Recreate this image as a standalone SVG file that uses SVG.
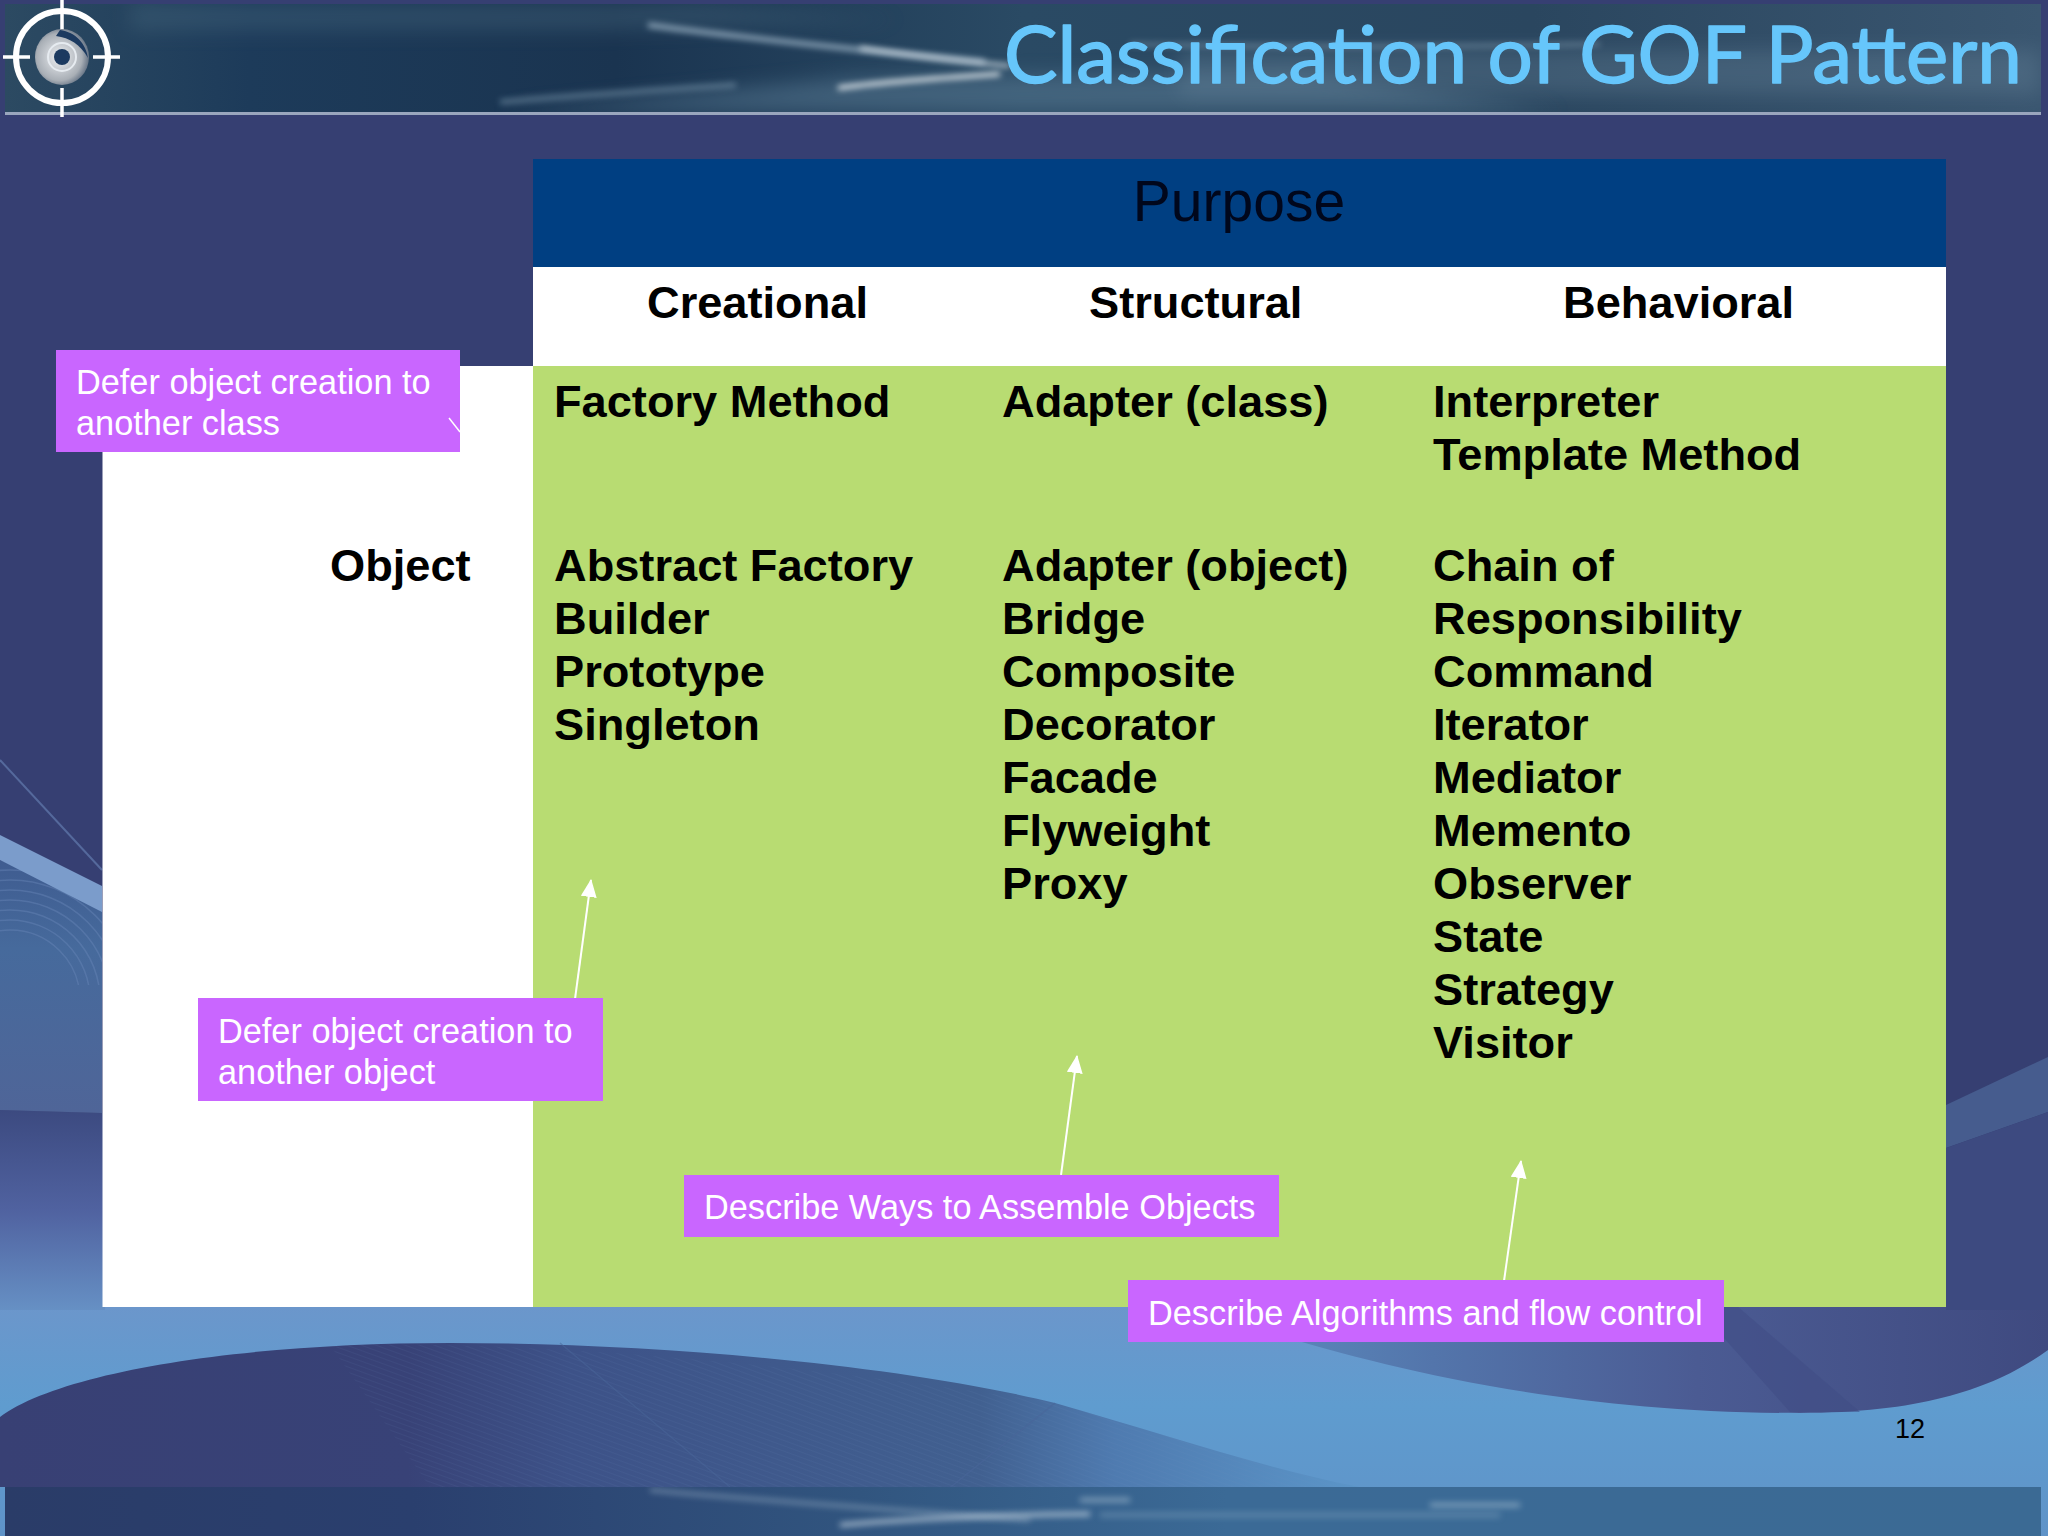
<svg xmlns="http://www.w3.org/2000/svg" width="2048" height="1536" viewBox="0 0 2048 1536">
<style>
.b{font-family:"Liberation Sans",Arial,sans-serif;font-weight:700;font-size:45.2px;fill:#000}
.l{font-family:"Liberation Sans",Arial,sans-serif;font-size:34.3px;fill:#fff}
.box{fill:#c966ff}
.arrow{stroke:#fff;stroke-width:2;fill:none;marker-end:url(#head)}
</style>
<defs>
<marker id="head" markerUnits="userSpaceOnUse" markerWidth="18" markerHeight="20" refX="17" refY="8" orient="auto"><path d="M0 0L18 8L0 16Z" fill="#fff"/></marker>
<linearGradient id="sky" x1="0" y1="0" x2="0" y2="1"><stop offset="0" stop-color="#6c96cb"/><stop offset=".45" stop-color="#5f9ccf"/><stop offset="1" stop-color="#5f93c8"/></linearGradient>
<linearGradient id="mound" x1="0" y1="0" x2="1" y2="0"><stop offset="0" stop-color="#384074"/><stop offset=".3" stop-color="#384277"/><stop offset=".42" stop-color="#3d5288"/><stop offset=".72" stop-color="#416090"/><stop offset=".82" stop-color="#4f7bb0"/><stop offset="1" stop-color="#5b95c8"/></linearGradient>
<linearGradient id="right" x1="0" y1="0" x2="1" y2="0"><stop offset="0" stop-color="#5f92c4"/><stop offset=".3" stop-color="#5375ab"/><stop offset=".6" stop-color="#4b5b93"/><stop offset="1" stop-color="#3f4a80"/></linearGradient>
<linearGradient id="left" x1="0" y1="0" x2="0" y2="1"><stop offset="0" stop-color="#3c4a80"/><stop offset=".5" stop-color="#5062a0"/><stop offset="1" stop-color="#6690c4"/></linearGradient>
<linearGradient id="leftup" x1="0" y1="0" x2="0" y2="1"><stop offset="0" stop-color="#3f5c90"/><stop offset=".35" stop-color="#466a9c"/><stop offset="1" stop-color="#4f6598"/></linearGradient>
<linearGradient id="head1" x1="0" y1="0" x2="1" y2="0"><stop offset="0" stop-color="#2c4a62"/><stop offset=".12" stop-color="#1d3b5a"/><stop offset=".3" stop-color="#1a3450"/><stop offset=".5" stop-color="#2a4a64"/><stop offset=".75" stop-color="#2a465f"/><stop offset="1" stop-color="#3a5670"/></linearGradient>
<linearGradient id="foot" x1="0" y1="0" x2="1" y2="0"><stop offset="0" stop-color="#2a3c68"/><stop offset=".2" stop-color="#2a3f6e"/><stop offset=".42" stop-color="#31557f"/><stop offset=".6" stop-color="#3b6a96"/><stop offset="1" stop-color="#3b6a94"/></linearGradient>
<radialGradient id="lens" cx=".45" cy=".5" r=".6"><stop offset="0" stop-color="#eef0f3"/><stop offset=".7" stop-color="#a9afb6"/><stop offset="1" stop-color="#4b5c72"/></radialGradient>
<pattern id="hatch" width="5" height="5" patternUnits="userSpaceOnUse" patternTransform="rotate(20)"><path d="M0 0H5" stroke="#6f8fc0" stroke-width="1"/></pattern>
<filter id="soft" filterUnits="userSpaceOnUse" x="0" y="-100" width="2048" height="1736"><feGaussianBlur stdDeviation="3"/></filter>
<filter id="softer" filterUnits="userSpaceOnUse" x="0" y="-100" width="2048" height="1736"><feGaussianBlur stdDeviation="10"/></filter>
<clipPath id="hc"><rect x="5" y="4" width="2036" height="108"/></clipPath>
<clipPath id="fc"><rect x="5" y="1487" width="2036" height="49"/></clipPath>
<clipPath id="lc"><path d="M0 860L102 905V985H0Z"/></clipPath>
</defs>

<g id="background">
<rect width="2048" height="1536" fill="#363f72"/>
<rect x="0" y="1300" width="2048" height="236" fill="url(#sky)"/>
<path d="M0 1110L105 1113V1310H0Z" fill="url(#left)"/>
<path d="M0 860L102 905V1113L0 1110Z" fill="url(#leftup)"/>
<g clip-path="url(#lc)" fill="none" stroke="#6d8abb" stroke-width="1.500" opacity=".4">
<circle cx="10" cy="1000" r="70"/><circle cx="10" cy="1000" r="80"/><circle cx="10" cy="1000" r="90"/><circle cx="10" cy="1000" r="100"/><circle cx="10" cy="1000" r="110"/><circle cx="10" cy="1000" r="120"/><circle cx="10" cy="1000" r="130"/>
</g>
<path d="M0 835L102 886V912L0 860Z" fill="#7b9ccb"/>
<path d="M0 760L102 870" stroke="#55699c" stroke-width="2" fill="none"/>
<path d="M0 1417C60 1372 240 1343 450 1343C660 1343 900 1365 1055 1403C1170 1436 1270 1470 1360 1487H0Z" fill="url(#mound)"/>
<path d="M330 1345C420 1343 660 1343 1055 1403C1170 1436 1270 1470 1360 1487H430Z" fill="url(#hatch)" opacity=".18"/>
<path d="M560 1343L730 1487M1055 1403L890 1536" stroke="#4a659a" stroke-width="1.500" opacity=".5" fill="none"/>
<path d="M1170 1300C1290 1340 1500 1413 1800 1413C1930 1413 2000 1385 2048 1350V1300Z" fill="url(#right)"/>
<path d="M1690 1300L1790 1412H1860L1730 1300Z" fill="#3f4d85" opacity=".55"/>
<path d="M1946 1105L2048 1057V1112L1946 1148Z" fill="#465c8e"/>
<path d="M1946 1148L2048 1112V1310H1946Z" fill="#3d4a80"/>
</g>

<g id="header">
<rect x="5" y="4" width="2036" height="108" fill="url(#head1)"/>
<g clip-path="url(#hc)">
<path d="M130 4H700L900 20L600 30H130Z" fill="#4a6a80" opacity=".4" filter="url(#softer)"/>
<path d="M500 112L850 78L1300 72L1560 112Z" fill="#5d7f98" opacity=".5" filter="url(#softer)"/>
<path d="M1180 50H2041V95H1180Z" fill="#6f8ca2" opacity=".3" filter="url(#softer)"/>
<path d="M648 25C760 40 880 52 985 62" stroke="#8ea6b9" stroke-width="5" fill="none" filter="url(#soft)"/>
<path d="M860 48C900 54 950 60 1010 66" stroke="#e6eef3" stroke-width="3" fill="none" filter="url(#soft)"/>
<path d="M838 88C880 82 940 78 1000 74" stroke="#f2f6f8" stroke-width="4" fill="none" filter="url(#soft)"/>
<path d="M500 102C580 95 660 90 736 85" stroke="#7d99ae" stroke-width="5" fill="none" filter="url(#soft)" opacity=".6"/>
<path d="M1130 44C1200 46 1400 48 1600 44" stroke="#90a8ba" stroke-width="4" fill="none" filter="url(#soft)" opacity=".5"/>
</g>
<rect x="5" y="112" width="2036" height="3" fill="#9aa6bd"/>
<text x="1004" y="83" font-family="Lato,'Liberation Sans',sans-serif" font-size="80" fill="#66c6fb" stroke="#66c6fb" stroke-width="1.500" stroke-linejoin="round" textLength="1018" lengthAdjust="spacingAndGlyphs">Classification of GOF Pattern</text>
</g>

<g id="logo">
<circle cx="62" cy="57" r="46" fill="none" stroke="#fff" stroke-width="6"/>
<path d="M62 0V30M62 88V117M3 57H30M93 57H120" stroke="#fff" stroke-width="3.500" fill="none"/>
<ellipse cx="62" cy="57" rx="27" ry="28" fill="url(#lens)"/>
<path d="M60 30C76 32 86 44 88 58C80 44 70 38 56 36Z" fill="#1c3a60"/>
<circle cx="62" cy="57" r="14" fill="none" stroke="#e6ebf0" stroke-width="2"/>
<circle cx="62" cy="57" r="8" fill="#1c3a60"/>
</g>

<g id="footer">
<rect x="5" y="1487" width="2036" height="49" fill="url(#foot)"/>
<g clip-path="url(#fc)">
<path d="M650 1490C750 1500 900 1510 1030 1520" stroke="#9fb4c8" stroke-width="3" fill="none" filter="url(#soft)" opacity=".7"/>
<path d="M840 1525C900 1520 980 1515 1090 1514" stroke="#cfdce6" stroke-width="4" fill="none" filter="url(#soft)" opacity=".8"/>
<path d="M1080 1500H1130M1430 1505H1520" stroke="#a8c0d2" stroke-width="4" fill="none" filter="url(#soft)" opacity=".7"/>
<path d="M1100 1515H1500" stroke="#7ea0bc" stroke-width="5" fill="none" filter="url(#soft)" opacity=".5"/>
</g>
</g>

<g id="table">
<rect x="533" y="159" width="1413" height="108" fill="#003f82"/>
<rect x="533" y="267" width="1413" height="99" fill="#fff"/>
<rect x="102.500" y="366" width="430.500" height="941" fill="#fff"/>
<rect x="533" y="366" width="1413" height="941" fill="#b8dc72"/>
<text x="1239" y="221" text-anchor="middle" font-family="'Liberation Sans',Arial,sans-serif" font-size="57" fill="#00071c">Purpose</text>
<text class="b" x="647" y="318">Creational</text>
<text class="b" x="1089" y="318">Structural</text>
<text class="b" x="1563" y="318">Behavioral</text>
<text class="b" x="330" y="581">Object</text>
<text class="b" x="554" y="417">Factory Method</text>
<text class="b" x="1002" y="417">Adapter (class)</text>
<text class="b" x="1433" y="417">Interpreter</text>
<text class="b" x="1433" y="470">Template Method</text>
<text class="b" x="554" y="581">Abstract Factory</text>
<text class="b" x="554" y="634">Builder</text>
<text class="b" x="554" y="687">Prototype</text>
<text class="b" x="554" y="740">Singleton</text>
<text class="b" x="1002" y="581">Adapter (object)</text>
<text class="b" x="1002" y="634">Bridge</text>
<text class="b" x="1002" y="687">Composite</text>
<text class="b" x="1002" y="740">Decorator</text>
<text class="b" x="1002" y="793">Facade</text>
<text class="b" x="1002" y="846">Flyweight</text>
<text class="b" x="1002" y="899">Proxy</text>
<text class="b" x="1433" y="581">Chain of</text>
<text class="b" x="1433" y="634">Responsibility</text>
<text class="b" x="1433" y="687">Command</text>
<text class="b" x="1433" y="740">Iterator</text>
<text class="b" x="1433" y="793">Mediator</text>
<text class="b" x="1433" y="846">Memento</text>
<text class="b" x="1433" y="899">Observer</text>
<text class="b" x="1433" y="952">State</text>
<text class="b" x="1433" y="1005">Strategy</text>
<text class="b" x="1433" y="1058">Visitor</text>
</g>

<g id="connectors">
<path class="arrow" d="M575 999L591 880"/>
<path class="arrow" d="M1061 1175L1077 1056"/>
<path class="arrow" d="M1504 1281L1521 1161"/>
</g>

<g id="note-class">
<rect class="box" x="56" y="350" width="404" height="102"/>
<path d="M449 418L460 432" stroke="#fff" stroke-width="1.500" fill="none"/>
<text class="l" x="76" y="394">Defer object creation to</text>
<text class="l" x="76" y="435">another class</text>
</g>
<g id="note-object">
<rect class="box" x="198" y="998" width="405" height="103"/>
<text class="l" x="218" y="1043">Defer object creation to</text>
<text class="l" x="218" y="1084">another object</text>
</g>
<g id="note-assemble">
<rect class="box" x="684" y="1175" width="595" height="62"/>
<text class="l" x="704" y="1219">Describe Ways to Assemble Objects</text>
</g>
<g id="note-algorithms">
<rect class="box" x="1128" y="1280" width="596" height="62"/>
<text class="l" x="1148" y="1325">Describe Algorithms and flow control</text>
</g>
<g id="page-number">
<text x="1895" y="1438" font-family="'Liberation Sans',Arial,sans-serif" font-size="27" fill="#000">12</text>
</g>
</svg>
